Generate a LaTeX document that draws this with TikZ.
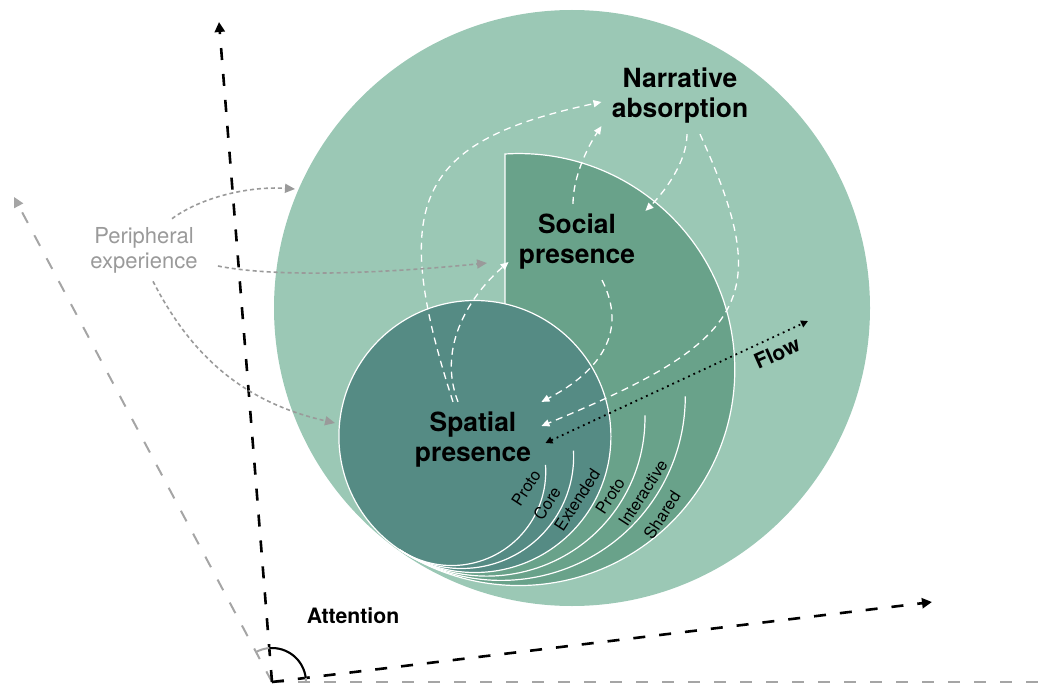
\documentclass[tikz,border=0pt]{standalone}
\usepackage{fontspec}
\setmainfont{TeX Gyre Heros}
\usetikzlibrary{arrows.meta,calc}
\definecolor{outergreen}{HTML}{9BC8B5}
\definecolor{socialgreen}{HTML}{69A28A}
\definecolor{spatialgreen}{HTML}{558B84}
\definecolor{axisgray}{HTML}{A5A5A5}
\definecolor{pergray}{HTML}{9A9A9A}
\tikzset{
  mainlabel/.style={font=\bfseries\fontsize{13.2}{15}\selectfont,align=center,inner sep=5pt},
  arclabel/.style={font=\fontsize{8.2}{9}\selectfont,rotate=57,inner sep=0pt},
  rim/.style={white,line width=0.6pt},
  whitearrow/.style={white,line width=0.65pt,dash pattern=on 3.5pt off 2.5pt,-{Triangle[length=4pt,width=3.5pt]}},
  grayarrow/.style={pergray,line width=0.8pt,dash pattern=on 2pt off 1.5pt,-{Triangle[length=5pt,width=4.5pt]}},
  blackaxis/.style={black,line width=1.3pt,dash pattern=on 6pt off 7pt,-{Triangle[length=5pt,width=5pt]}},
  grayaxis/.style={axisgray,line width=1pt,dash pattern=on 6pt off 7pt,-{Triangle[length=5pt,width=5pt]}},
  flowline/.style={black,line width=0.9pt,dotted,{Triangle[length=3.5pt,width=3.5pt]}-{Triangle[length=3.5pt,width=3.5pt]}}
}
\begin{document}
\begin{tikzpicture}[x=0.5pt,y=-0.5pt]
\useasboundingbox (0,0) rectangle (1050,690);
\coordinate (O) at (272,682);
\coordinate (gy) at (14,197);
\coordinate (gx) at (1060,682);
\coordinate (by) at (219,22);
\coordinate (bx) at (932,602);
\coordinate (T) at (400,550);
\draw[grayaxis] (O) -- (gy);
\draw[grayaxis] (O) -- (gx);
\draw[blackaxis] (O) -- (by);
\draw[blackaxis] (O) -- (bx);
\draw[axisgray,line width=1pt] ($(O)+(-118:34)$) arc[start angle=-118,end angle=0,radius=34];
\draw[black,line width=1pt] ($(O)+(-94.6:34)$) arc[start angle=-94.6,end angle=-6.9,radius=34];
\fill[outergreen] (572,308) circle (298);
\filldraw[fill=socialgreen,draw=white,line width=0.6pt] (505,330) -- (505,154) arc[start angle=-93.66,end angle=123.4,radius=216] -- cycle;
\filldraw[fill=spatialgreen,draw=white,line width=0.6pt] (474.9,436.5) circle (136);
\foreach \r/\e in {94/-4,112/-3,158/-1,184/0}
  \draw[rim] (T) arc[start angle=123.4,end angle=\e,radius=\r];
\foreach \t/\x/\y [count=\i] in {Proto/526/488,Core/547/503,Extended/577/500,Proto/610/496,Interactive/643/493,Shared/662/515}
  \node[arclabel] (layer\i) at (\x,\y) {\t};
\node[mainlabel] (narrative) at (680,96) {Narrative\\absorption};
\node[mainlabel] (social) at (577,242) {Social\\presence};
\node[mainlabel] (spatial) at (473,440) {Spatial\\presence};
\node[font=\fontsize{11}{12.5}\selectfont,text=pergray,align=center,inner sep=4pt] (peripheral) at (144,250) {Peripheral\\experience};
\node[font=\bfseries\fontsize{10.5}{12}\selectfont,rotate=24] (flow) at (777,353) {Flow};
\node[font=\bfseries\fontsize{10.6}{12}\selectfont] (attention) at (353,616) {Attention};
\draw[whitearrow] ([xshift=-10pt]spatial.north) .. controls +(-65.5,-202) and +(-183,39) .. ([yshift=-3pt]narrative.west);
\draw[whitearrow] ([xshift=-7.5pt]spatial.north) .. controls +(-22,-57) and +(-36,31) .. ([yshift=-10pt]social.west);
\draw[whitearrow] ([xshift=12.5pt]social.south) .. controls +(26,51) and +(59.5,-31) .. (spatial.north east);
\draw[whitearrow] ([xshift=3.5pt]narrative.south) .. controls +(0,27) and +(20,-20) .. ([yshift=-3.5pt]social.north east);
\draw[whitearrow] ([xshift=10pt]narrative.south) .. controls +(74,163) and +(209,-86) .. ([yshift=7pt]spatial.east);
\draw[whitearrow] ([xshift=-2pt]social.north) .. controls +(0,-27) and +(-14,21) .. ([yshift=4pt]narrative.south west);
\coordinate (rim1) at (295,189);
\coordinate (rim2) at (487,263);
\coordinate (rim3) at (335,423);
\draw[grayarrow] ([xshift=14pt]peripheral.north) .. controls +(30,-22) and +(-45,-3) .. (rim1);
\draw[grayarrow] ([xshift=6pt,yshift=-8pt]peripheral.east) .. controls +(60,12) and +(-100,10) .. (rim2);
\draw[grayarrow] ([xshift=4.5pt]peripheral.south) .. controls +(41,80) and +(-86,-19.5) .. (rim3);
\coordinate (flowend) at (808,321);
\draw[flowline] ([shift={(2pt,-1.5pt)}]spatial.east) -- (flowend);
\end{tikzpicture}
\end{document}
